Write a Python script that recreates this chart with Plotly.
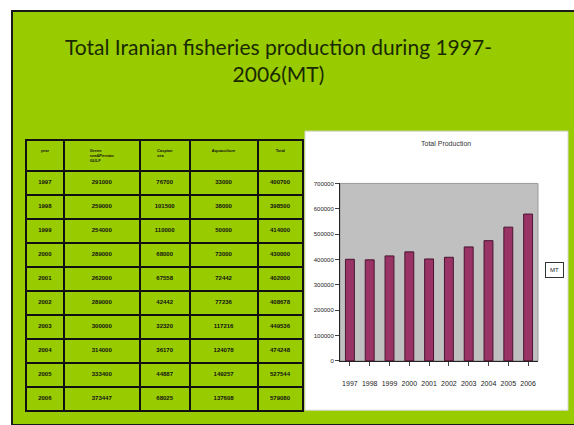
import plotly.graph_objects as go

W, H = 574, 425

years = ["1997", "1998", "1999", "2000", "2001", "2002", "2003", "2004", "2005", "2006"]
persian_gulf = [291000, 259000, 254000, 289000, 262000, 289000, 300000, 314000, 333400, 373447]
caspian = [76700, 101500, 110000, 68000, 67558, 42442, 32320, 36170, 44887, 68025]
aquaculture = [33000, 38000, 50000, 73000, 72442, 77236, 117216, 124078, 149257, 137608]
totals = [400700, 398500, 414000, 430000, 402000, 408678, 449536, 474248, 527544, 579080]

header_labels = ["year", "Green<br>sea&Persian<br>GULF", "Caspian<br>sea", "Aquaculture", "Total"]
chart_title = "Total Production"
legend_label = "MT"
slide_title = "Total Iranian fisheries production during 1997-<br>2006(MT)"

GREEN = "#99CC00"


def px(x):
    return x / W


def py(y):
    return 1 - y / H


fig = go.Figure()

fig.add_trace(go.Table(
    domain=dict(x=[px(26), px(303)], y=[py(417), py(139)]),
    columnwidth=[38, 75, 50, 67, 45],
    header=dict(
        values=[f"<b>{h}</b>" for h in header_labels],
        fill_color=GREEN,
        line=dict(color="#111111", width=2),
        font=dict(family="Liberation Sans", size=4, color="#111111"),
        align="center",
        height=30,
    ),
    cells=dict(
        values=[[f"<b>{v}</b>" for v in years],
                [f"<b>{v}</b>" for v in persian_gulf],
                [f"<b>{v}</b>" for v in caspian],
                [f"<b>{v}</b>" for v in aquaculture],
                [f"<b>{v}</b>" for v in totals]],
        fill_color=GREEN,
        line=dict(color="#111111", width=2),
        font=dict(family="Liberation Sans", size=6, color="#111111"),
        align="center",
        height=24,
    ),
))

fig.add_trace(go.Bar(
    x=years, y=totals,
    marker=dict(color="#993366", line=dict(color="#4a1530", width=1)),
    showlegend=False,
))

shapes = [
    dict(type="rect", xref="paper", yref="paper", x0=px(12), x1=px(576), y0=py(428), y1=py(8),
         fillcolor=GREEN, line=dict(color="#1a1a1a", width=2), layer="below"),
    dict(type="rect", xref="paper", yref="paper", x0=px(305), x1=px(568), y0=py(413), y1=py(130),
         fillcolor="white", line=dict(color="#d8d8d8", width=1), layer="below"),
    dict(type="rect", xref="x domain", yref="y domain", x0=0, x1=1, y0=0, y1=1,
         fillcolor="#C0C0C0", line=dict(color="#999999", width=1), layer="below"),
]

annotations = [
    dict(text=slide_title, xref="paper", yref="paper", x=px(278), y=py(58), showarrow=False,
         font=dict(family="Lato", size=21, color="#1a2a00"), align="center", xanchor="center", yanchor="middle"),
    dict(text=chart_title, xref="paper", yref="paper", x=px(446), y=py(143), showarrow=False,
         font=dict(family="Liberation Sans Narrow, Liberation Sans", size=7, color="#333333"), xanchor="center", yanchor="middle"),
    dict(text=legend_label, xref="paper", yref="paper", x=px(554), y=py(271), showarrow=False,
         font=dict(family="Liberation Sans", size=6, color="#222222"), xanchor="center", yanchor="middle",
         bordercolor="#333333", borderwidth=1, borderpad=4, bgcolor="white"),
]

fig.update_layout(
    width=W, height=H,
    margin=dict(l=0, r=0, t=0, b=0),
    paper_bgcolor="white",
    plot_bgcolor="#C0C0C0",
    shapes=shapes,
    annotations=annotations,
    bargap=0.55,
    showlegend=False,
    xaxis=dict(domain=[px(340), px(538)], showline=True, linecolor="#222222", linewidth=1,
               ticks="outside", ticklen=4, tickcolor="#444444",
               tickfont=dict(family="Liberation Sans Narrow, Liberation Sans", size=7, color="#222222"),
               ticklabelstandoff=12, showgrid=False),
    yaxis=dict(domain=[py(363), py(183)], range=[0, 700000], dtick=100000, showline=True,
               linecolor="#222222", linewidth=1, ticks="outside", ticklen=4, tickcolor="#444444",
               tickfont=dict(family="Liberation Sans Narrow, Liberation Sans", size=6, color="#222222"),
               tickformat="d", showgrid=False, zeroline=False),
)

fig.write_html("out.html")
